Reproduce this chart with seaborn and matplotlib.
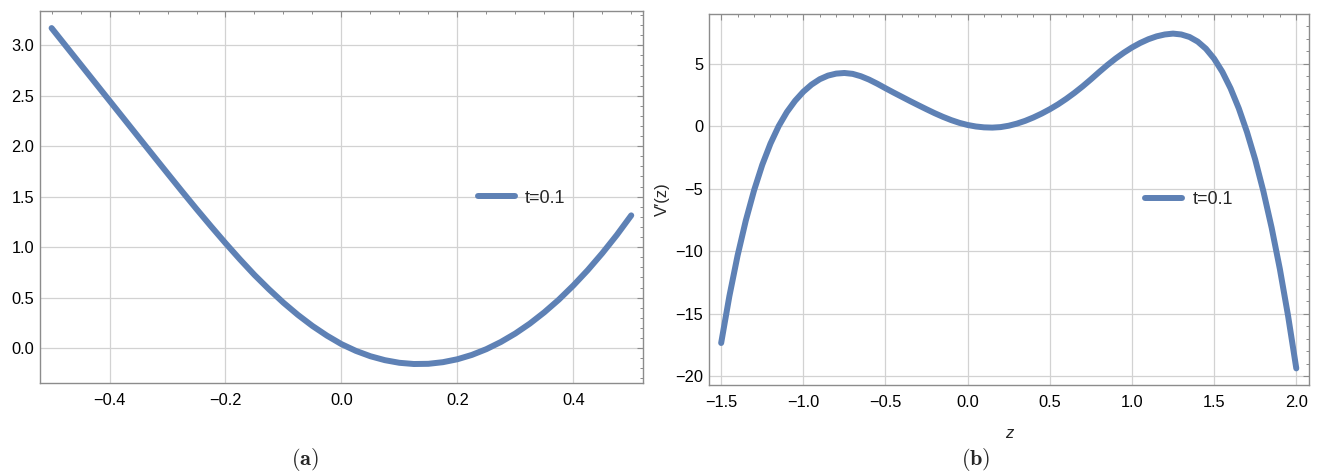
import matplotlib
matplotlib.use("Agg")
import matplotlib.pyplot as plt
import seaborn as sns
from matplotlib.ticker import MultipleLocator

# panel (a): values
z_a = [-0.500, -0.475, -0.450, -0.425, -0.400, -0.375, -0.350, -0.325, -0.300, -0.275,
       -0.250, -0.225, -0.200, -0.175, -0.150, -0.125, -0.100, -0.075, -0.050, -0.025,
       0.000, 0.025, 0.050, 0.075, 0.100, 0.125, 0.150, 0.175, 0.200, 0.225,
       0.250, 0.275, 0.300, 0.325, 0.350, 0.375, 0.400, 0.425, 0.450, 0.475, 0.500]
v_a = [3.17, 2.99, 2.81, 2.63, 2.45, 2.27, 2.09, 1.91, 1.731, 1.553,
       1.378, 1.207, 1.04, 0.879, 0.725, 0.583, 0.45, 0.329, 0.22, 0.124,
       0.04, -0.027, -0.08, -0.119, -0.145, -0.157, -0.155, -0.139, -0.11, -0.067,
       -0.01, 0.061, 0.145, 0.243, 0.355, 0.48, 0.62, 0.773, 0.94, 1.12, 1.315]

# panel (b)
z_b = [-1.50, -1.45, -1.40, -1.35, -1.30, -1.25, -1.20, -1.15, -1.10, -1.05,
       -1.00, -0.95, -0.90, -0.85, -0.80, -0.75, -0.70, -0.65, -0.60, -0.55,
       -0.50, -0.45, -0.40, -0.35, -0.30, -0.25, -0.20, -0.15, -0.10, -0.05,
       0.00, 0.05, 0.10, 0.15, 0.20, 0.25, 0.30, 0.35, 0.40, 0.45,
       0.50, 0.55, 0.60, 0.65, 0.70, 0.75, 0.80, 0.85, 0.90, 0.95,
       1.00, 1.05, 1.10, 1.15, 1.20, 1.25, 1.30, 1.35, 1.40, 1.45,
       1.50, 1.55, 1.60, 1.65, 1.70, 1.75, 1.80, 1.85, 1.90, 1.95, 2.00]
v_b = [-17.35, -13.6, -10.35, -7.55, -5.15, -3.1, -1.4, 0.0, 1.125, 2.025,
       2.75, 3.32, 3.75, 4.04, 4.2, 4.25, 4.18, 3.99, 3.72, 3.39,
       3.03, 2.68, 2.34, 2.0, 1.67, 1.345, 1.03, 0.74, 0.48, 0.26,
       0.09, -0.03, -0.1, -0.12, -0.08, 0.03, 0.2, 0.42, 0.69, 1.0,
       1.35, 1.74, 2.18, 2.66, 3.18, 3.74, 4.32, 4.88, 5.4, 5.87,
       6.29, 6.65, 6.95, 7.18, 7.33, 7.4, 7.33, 7.13, 6.76, 6.19,
       5.39, 4.34, 3.02, 1.42, -0.48, -2.68, -5.23, -8.13, -11.43, -15.18, -19.38]

legend_label = "t=0.1"
line_color = "#5E81B5"

sns.set_theme(style="white")
plt.rcParams["font.family"] = ["Liberation Sans", "DejaVu Sans"]

fig = plt.figure(figsize=(13.2, 4.74), dpi=100)
ax1 = fig.add_axes([0.0303, 0.192, 0.4567, 0.785])
ax2 = fig.add_axes([0.537, 0.188, 0.455, 0.782])


def style_axes(ax, xmaj, xmin, ymaj, ymin):
    ax.xaxis.set_major_locator(MultipleLocator(xmaj))
    ax.xaxis.set_minor_locator(MultipleLocator(xmin))
    ax.yaxis.set_major_locator(MultipleLocator(ymaj))
    ax.yaxis.set_minor_locator(MultipleLocator(ymin))
    ax.grid(True, which="major", color="#d2d2d2", lw=0.9)
    ax.tick_params(which="both", direction="in", top=True, right=True,
                   color="#8c8c8c", labelcolor="black", labelsize=11.8)
    ax.tick_params(which="major", length=4.5, width=0.8)
    ax.tick_params(which="minor", length=2.5, width=0.7)
    ax.tick_params(axis="x", pad=7)
    ax.tick_params(axis="y", pad=4)
    for sp in ax.spines.values():
        sp.set_color("#8c8c8c")
        sp.set_linewidth(1.0)
    ax.set_axisbelow(True)


def add_legend(ax, anchor):
    ax.legend(loc="center left", bbox_to_anchor=anchor, frameon=False,
              fontsize=13, handlelength=2.05, handletextpad=0.55,
              borderpad=0, borderaxespad=0)


sns.lineplot(x=z_a, y=v_a, ax=ax1, color=line_color, lw=4.3,
             label=legend_label, solid_joinstyle="round")
ax1.set_xlim(-0.52, 0.52)
ax1.set_ylim(-0.345, 3.34)
style_axes(ax1, 0.2, 0.05, 0.5, 0.1)
add_legend(ax1, (0.726, 0.497))

sns.lineplot(x=z_b, y=v_b, ax=ax2, color=line_color, lw=4.3,
             label=legend_label, solid_joinstyle="round")
ax2.set_xlim(-1.575, 2.08)
ax2.set_ylim(-20.7, 8.95)
style_axes(ax2, 0.5, 0.1, 5, 1)
add_legend(ax2, (0.727, 0.499))
ax2.set_xlabel("z", fontsize=12, style="italic", labelpad=12)
ax2.set_ylabel("V\u2032(z)", fontsize=12, labelpad=4)

fig.text(0.231, 0.03, r"$\mathbf{(a)}$", ha="center", va="center",
         fontsize=16, math_fontfamily="cm")
fig.text(0.739, 0.03, r"$\mathbf{(b)}$", ha="center", va="center",
         fontsize=16, math_fontfamily="cm")

fig.savefig("out.png", dpi=100)
plt.close(fig)
